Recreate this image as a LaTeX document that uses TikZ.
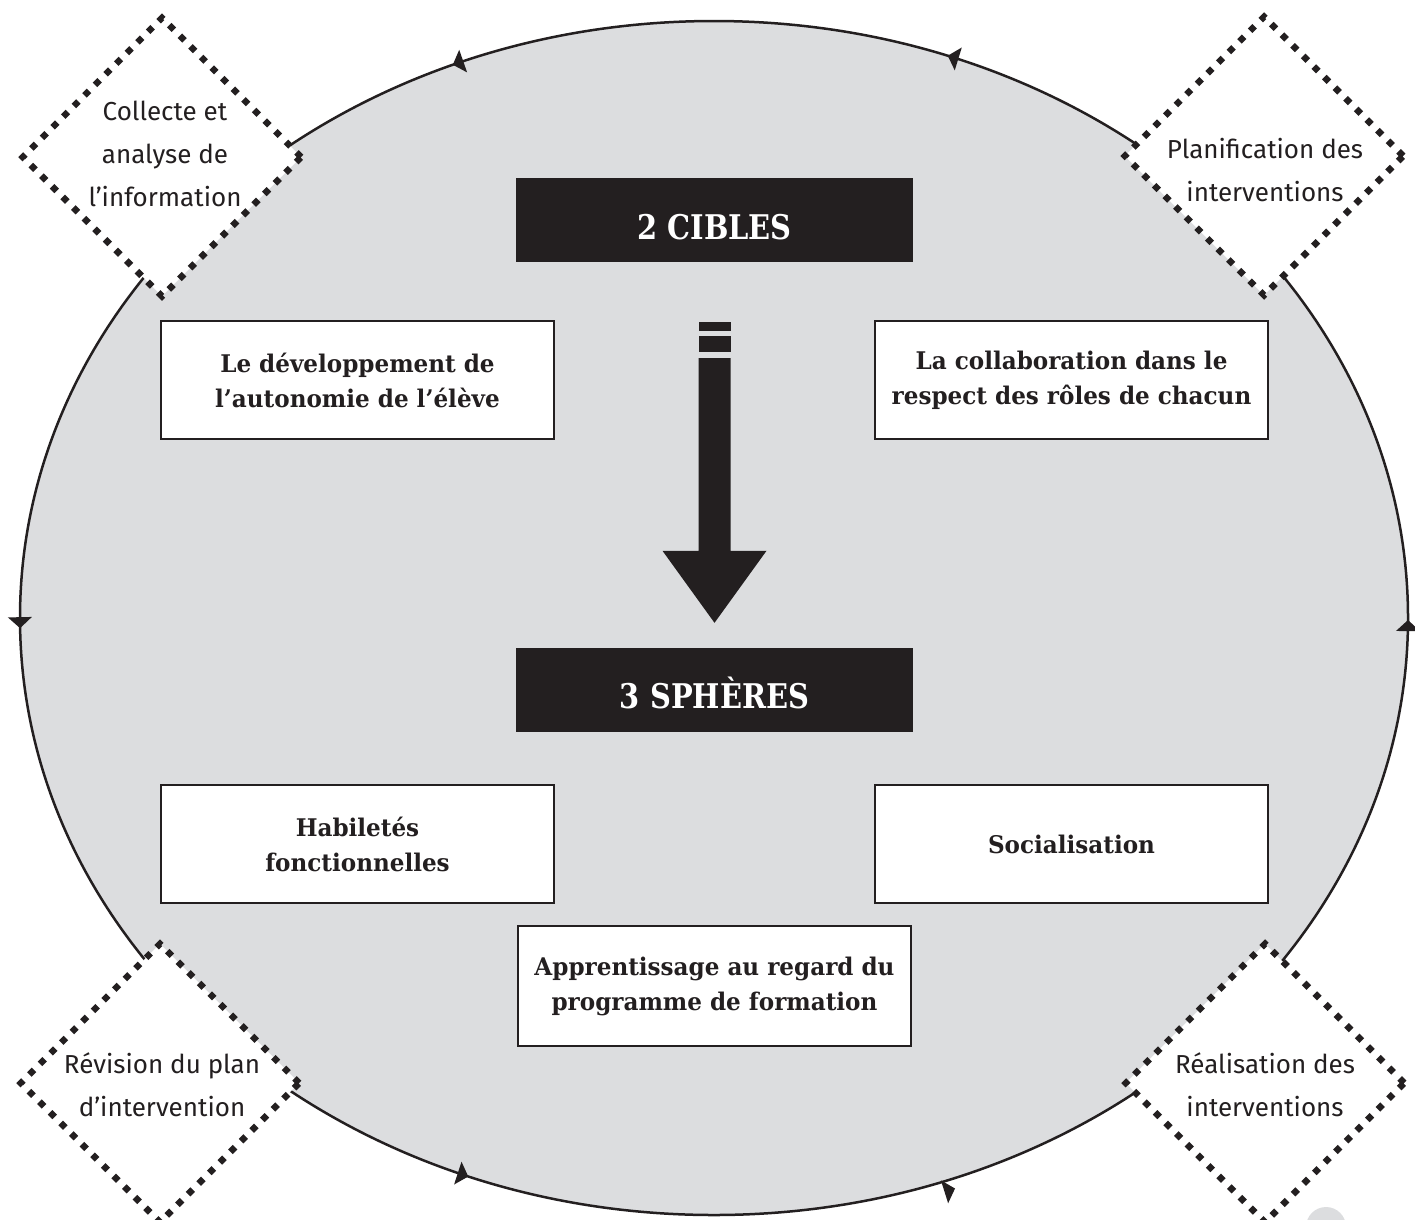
\documentclass[tikz,border=0pt]{standalone}
\usepackage{fontspec}
\usetikzlibrary{shapes.geometric,decorations.markings,calc}
\newfontfamily\slabfont[FakeStretch=0.95]{DejaVu Serif}
\newfontfamily\titlefont[FakeStretch=0.85]{DejaVu Serif}
\newfontfamily\labelfont{Fira Sans}
\definecolor{ringfill}{RGB}{220,221,223}
\definecolor{inkdark}{RGB}{35,31,32}

% arrowhead placed on the ring: tip at the mark, optional sideways offset
\newcommand{\ringtip}[1]{\fill[inkdark] (0pt,#1) -- (-11pt,12pt+#1) -- (-11pt,-12pt+#1) -- cycle;}

\tikzset{
  titlebox/.style={fill=inkdark, minimum width=397pt, minimum height=84pt,
    inner sep=0pt, text=white, text height=38pt, text depth=0pt,
    font=\titlefont\bfseries\fontsize{34}{36}\selectfont},
  topicbox/.style={draw=inkdark, line width=2pt, fill=white, minimum width=393pt,
    minimum height=118pt, inner sep=0pt, align=center, text=inkdark,
    font=\slabfont\bfseries\fontsize{24.3}{35}\selectfont},
  stagediamond/.style={diamond, aspect=1, draw=inkdark, fill=white,
    line width=6.5pt, dash pattern=on 6.5pt off 8.5pt,
    minimum width=281pt, minimum height=281pt, inner sep=0pt},
  stagetext/.style={align=center, text=inkdark, inner sep=0pt,
    font=\labelfont\fontsize{26}{43}\selectfont},
  ringline/.style={draw=inkdark, fill=ringfill, line width=2.5pt,
    postaction={decorate},
    decoration={markings,
      mark=at position 0.1916 with {\ringtip{0pt}},
      mark=at position 0.3155 with {\ringtip{0pt}},
      mark=at position 0.5025 with {\ringtip{0pt}},
      mark=at position 0.6885 with {\ringtip{0pt}},
      mark=at position 0.8095 with {\ringtip{-10pt}},
      mark=at position 0.9995 with {\ringtip{0pt}}}},
}

\begin{document}
\begin{tikzpicture}[x=1pt,y=-1pt]
\useasboundingbox (0,0) rectangle (1415,1219);

% the cycle
\coordinate (ringc) at (714,618);
\path[ringline] (ringc) ellipse [x radius=694pt, y radius=597pt];
\fill[ringfill] (1326,1227) circle [radius=20pt];

% stages of the cycle
\node[stagediamond] (collect) at (162,157) {};
\node[stagediamond] (plan)    at (1264,156) {};
\node[stagediamond] (review)  at (160,1083) {};
\node[stagediamond] (carry)   at (1265,1083) {};
\node[stagetext] (collectt) at (165,154) {Collecte et\\analyse de\\l’information};
\node[stagetext] (plant)    at (1265,170) {Planification des\\interventions};
\node[stagetext] (reviewt)  at (162,1085) {Révision du plan\\d’intervention};
\node[stagetext] (carryt)   at (1265,1085) {Réalisation des\\interventions};

% targets
\node[titlebox] (cibles) at (714.5,220) {2 CIBLES};
\node[topicbox] (auto)   at (357.5,380) {Le développement de\\l’autonomie de l’élève};
\node[topicbox] (collab) at (1071.5,380) {La collaboration dans le\\respect des rôles de chacun};

% spheres
\node[titlebox, text height=36pt] (spheres) at (714.5,690) {3 SPHÈRES};
\node[topicbox] (habil)  at (357.5,844) {Habiletés\\fonctionnelles};
\node[topicbox] (social) at (1071.5,844) {Socialisation};
\node[topicbox, minimum height=120pt] (appr) at (714.5,986) {Apprentissage au regard du\\programme de formation};

% broad arrow from targets to spheres
\coordinate (shafttop) at ($(cibles.south)+(0,96)$);
\coordinate (arrowtip) at ($(spheres.north)+(0,-25)$);
\fill[inkdark] ($(cibles.south)+(-16,60)$) rectangle ++(32,9);
\fill[inkdark] ($(cibles.south)+(-16,74)$) rectangle ++(32,16);
\fill[inkdark] ($(shafttop)+(-16,0)$) -- ($(shafttop)+(16,0)$)
  -- ($(arrowtip)+(16,-72)$) -- ($(arrowtip)+(52,-72)$) -- (arrowtip)
  -- ($(arrowtip)+(-52,-72)$) -- ($(arrowtip)+(-16,-72)$) -- cycle;
\end{tikzpicture}
\end{document}
